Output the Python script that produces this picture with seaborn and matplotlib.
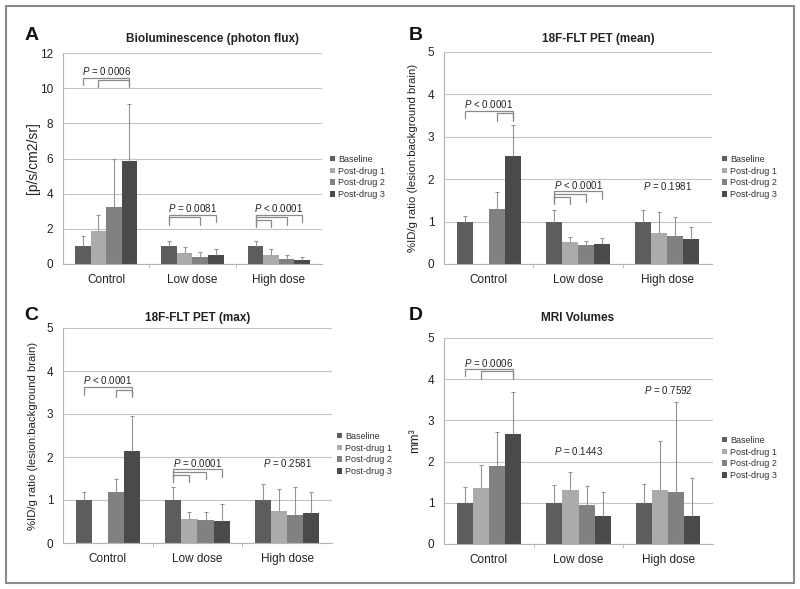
import numpy as np
import pandas as pd
import matplotlib
matplotlib.use("Agg")
import matplotlib.pyplot as plt
import seaborn as sns
from matplotlib.patches import Rectangle

groups = ["Control", "Low dose", "High dose"]
timepoints = ["Baseline", "Post-drug 1", "Post-drug 2", "Post-drug 3"]
bar_colors = ["#5d5d5d", "#ababab", "#818181", "#4a4a4a"]

# A - bioluminescence (photon flux), rows = groups, cols = timepoints
biolum_mean = [[1.0, 1.85, 3.22, 5.88], [1.0, 0.65, 0.42, 0.49], [1.0, 0.52, 0.26, 0.23]]
biolum_sd = [[0.57, 0.92, 2.73, 3.22], [0.33, 0.34, 0.27, 0.38], [0.33, 0.34, 0.23, 0.17]]

# B - 18F-FLT PET (mean)
flt_mean_mean = [[1.0, np.nan, 1.29, 2.54], [1.0, 0.52, 0.45, 0.48], [1.0, 0.72, 0.66, 0.60]]
flt_mean_sd = [[0.14, np.nan, 0.40, 0.73], [0.28, 0.11, 0.09, 0.14], [0.27, 0.51, 0.46, 0.28]]

# C - 18F-FLT PET (max)
flt_max_mean = [[1.0, np.nan, 1.18, 2.14], [1.0, 0.56, 0.53, 0.52], [1.0, 0.75, 0.66, 0.70]]
flt_max_sd = [[0.18, np.nan, 0.31, 0.82], [0.30, 0.16, 0.19, 0.38], [0.37, 0.51, 0.65, 0.48]]

# D - MRI volumes
mri_mean = [[1.0, 1.37, 1.90, 2.66], [1.0, 1.32, 0.95, 0.69], [1.0, 1.30, 1.27, 0.67]]
mri_sd = [[0.38, 0.55, 0.82, 1.02], [0.42, 0.43, 0.45, 0.57], [0.45, 1.20, 2.18, 0.93]]

# p-value annotations: (group, text, y)
biolum_p = [(0, "= 0.0006", 11.0), (1, "= 0.0081", 3.18), (2, "< 0.0001", 3.18)]
flt_mean_p = [(0, "< 0.0001", 3.77), (1, "< 0.0001", 1.87), (2, "= 0.1981", 1.83)]
flt_max_p = [(0, "< 0.0001", 3.78), (1, "= 0.0001", 1.86), (2, "= 0.2581", 1.86)]
mri_p = [(0, "= 0.0006", 4.39), (1, "= 0.1443", 2.25), (2, "= 0.7592", 3.74)]

# brackets: (group, first bar, second bar, y of line)
biolum_br = [(0, 0, 3, 10.59), (0, 1, 3, 10.47),
             (1, 0, 3, 2.80), (1, 0, 2, 2.67),
             (2, 0, 3, 2.80), (2, 0, 2, 2.67), (2, 0, 1, 2.53)]
flt_mean_br = [(0, 0, 3, 3.62), (0, 2, 3, 3.56),
               (1, 0, 3, 1.71), (1, 0, 2, 1.65), (1, 0, 1, 1.59)]
flt_max_br = [(0, 0, 3, 3.62), (0, 2, 3, 3.56),
              (1, 0, 3, 1.71), (1, 0, 2, 1.65), (1, 0, 1, 1.59)]
mri_br = [(0, 0, 3, 4.25), (0, 1, 3, 4.19)]

sns.set_theme(style="white")
plt.rcParams["font.family"] = ["Liberation Sans", "DejaVu Sans"]
plt.rcParams["mathtext.fontset"] = "custom"
plt.rcParams["mathtext.it"] = "Liberation Sans:italic"
plt.rcParams["mathtext.rm"] = "Liberation Sans"

W, H = 800, 589
fig = plt.figure(figsize=(8, 5.89), dpi=100)


def fx(x):
    return x / W


def fy(y):
    return 1 - y / H


def panel(box, means, sds, ymax, ystep, drop, pvals, brackets, title, title_xy,
          letter, letter_xy, ylabel, ylabel_x, ylabel_size, legend_xy):
    left, top, right, bottom = box
    ax = fig.add_axes([fx(left), fy(bottom), fx(right - left), (bottom - top) / H])

    rows = []
    for gi, g in enumerate(groups):
        for ti, t in enumerate(timepoints):
            rows.append({"group": g, "time": t, "value": means[gi][ti]})
    df = pd.DataFrame(rows)

    sns.barplot(data=df, x="group", y="value", hue="time", order=groups,
                hue_order=timepoints, palette=bar_colors, saturation=1,
                width=0.72, errorbar=None, linewidth=0, ax=ax, zorder=2)

    # bar centers per (group, timepoint)
    centers = {}
    for ti, cont in enumerate(ax.containers):
        for bar in cont:
            cx = bar.get_x() + bar.get_width() / 2
            centers[(int(round(cx)), ti)] = cx

    for gi in range(len(groups)):
        for ti in range(len(timepoints)):
            m, s = means[gi][ti], sds[gi][ti]
            if np.isnan(m) or (gi, ti) not in centers:
                continue
            cx = centers[(gi, ti)]
            ax.vlines(cx, m, m + s, color="#959595", lw=0.8, zorder=3)
            ax.plot([cx], [m + s], marker="_", ms=3.5, mew=0.8, color="#959595", zorder=3)

    for gi, i, j, y in brackets:
        x1, x2 = centers[(gi, i)], centers[(gi, j)]
        ax.plot([x1, x1, x2, x2], [y - drop, y, y, y - drop], color="#8a8a8a",
                lw=0.9, zorder=4, solid_joinstyle="miter")

    for gi, txt, y in pvals:
        ax.text(gi, y, r"$P$ " + txt, ha="center", va="center", fontsize=7,
                color="#222222", zorder=5)

    ax.set_xlim(-0.5, 2.5)
    ax.set_ylim(0, ymax)
    ax.set_yticks(np.arange(0, ymax + ystep / 2, ystep))
    ax.set_yticklabels([f"{v:g}" for v in np.arange(0, ymax + ystep / 2, ystep)])
    ax.set_xlabel("")
    ax.set_ylabel("")
    ax.yaxis.grid(True, color="#c4c4c4", lw=0.8)
    ax.set_axisbelow(True)
    for side in ["top", "right"]:
        ax.spines[side].set_visible(False)
    for side in ["left", "bottom"]:
        ax.spines[side].set_color("#b5b5b5")
        ax.spines[side].set_linewidth(0.8)
    ax.tick_params(axis="x", which="major", length=0, pad=7, labelsize=8.5, labelcolor="#222222")
    ax.tick_params(axis="y", length=0, pad=7, labelsize=8.5, labelcolor="#222222")
    ax.set_xticks([0.5, 1.5], minor=True)
    ax.tick_params(axis="x", which="minor", length=3, width=0.6, color="#b5b5b5",
                   direction="out", bottom=True)

    leg = ax.get_legend()
    handles = leg.legend_handles
    leg.remove()
    ax.legend(handles, timepoints, loc="center left",
              bbox_to_anchor=(fx(legend_xy[0]), fy(legend_xy[1])),
              bbox_transform=fig.transFigure, frameon=False, fontsize=6.5,
              handlelength=0.55, handleheight=0.55, handletextpad=0.35,
              labelspacing=0.3, borderpad=0, borderaxespad=0,
              labelcolor="#333333")

    fig.text(fx(title_xy[0]), fy(title_xy[1]), title, ha="center", va="center",
             fontsize=8.5, fontweight="bold", color="#222222")
    fig.text(fx(letter_xy[0]), fy(letter_xy[1]), letter, ha="left", va="center",
             fontsize=14, fontweight="bold", color="#111111")
    fig.text(fx(ylabel_x), fy((top + bottom) / 2), ylabel, rotation=90,
             ha="center", va="center", fontsize=ylabel_size, color="#222222")
    return ax


panel((63, 53, 322, 264), biolum_mean, biolum_sd, 12, 2, 0.43, biolum_p, biolum_br,
      "Bioluminescence (photon flux)", (213, 39), "A", (25, 35),
      "[p/s/cm2/sr]", 33, 10, (330, 177))
panel((444, 52, 712, 264), flt_mean_mean, flt_mean_sd, 5, 1, 0.18, flt_mean_p, flt_mean_br,
      "18F-FLT PET (mean)", (598, 39), "B", (409, 35),
      "%ID/g ratio (lesion:background brain)", 413, 8.2, (722, 177))
panel((63, 328, 332, 543), flt_max_mean, flt_max_sd, 5, 1, 0.17, flt_max_p, flt_max_br,
      "18F-FLT PET (max)", (198, 318), "C", (24, 315),
      "%ID/g ratio (lesion:background brain)", 33, 8.2, (337, 454))
panel((444, 338, 713, 544), mri_mean, mri_sd, 5, 1, 0.18, mri_p, mri_br,
      "MRI Volumes", (578, 318), "D", (409, 315),
      "mm³", 415, 9, (722, 458))

fig.add_artist(Rectangle((fx(6), fy(583)), fx(788), 577 / H, transform=fig.transFigure,
                         fill=False, edgecolor="#8a8a8a", lw=1.5))

fig.savefig("out.png", dpi=100)
